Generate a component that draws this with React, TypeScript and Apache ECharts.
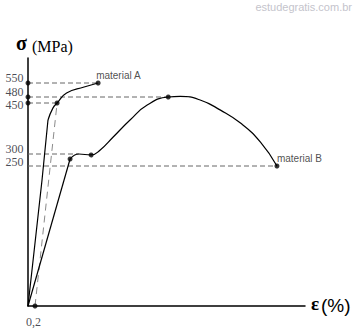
import React, { useEffect, useRef } from "react";
import * as echarts from "echarts";

// Stress axis of the reference is schematic (not proportional): labelled stresses and their axis spacing
const stressTicks = [0, 250, 300, 450, 480, 550];
const stressTickSpacing = [0, 140, 152, 203, 209, 223];
const stressAxisTop = 248;
const strainMax = 7.9;

// Material A (MPa vs %)
const strainA = [0, 0.4, 0.57, 0.71, 0.83, 1.1, 1.6, 2.0];
const stressA = [0, 225, 400, 435, 450, 500, 530, 550];
const elasticEndA = 2;
const markedA = [4, 7];

// Material B
const strainB = [0, 1.2, 1.45, 1.8, 2.06, 2.43, 2.91, 3.4, 4.0, 4.34, 4.91, 5.49, 6.06, 6.63, 7.1];
const stressB = [0, 279, 300, 296, 312, 350, 400, 444, 480, 483, 465, 429, 391, 335, 250];
const elasticEndB = 1;
const markedB = [1, 3, 8, 14];

// 0.2 % offset line
const offsetStrain = 0.2;
const offsetEndStrain = 0.83;
const offsetEndStress = 450;

// dashed reference lines: stress and the strain where they end
const guideStress = [550, 480, 450, 300, 250];
const guideStrainEnd = [2.0, 4.0, 0.83, 1.45, 7.1];
const axisDotStress = [550, 480, 450];
const tickLabels = ["550", "480", "450", "300", "250"];
const tickLabelStress = [550, 480, 450, 300, 250];

function toAxis(s: number): number {
  const t = stressTicks;
  const p = stressTickSpacing;
  for (let i = 1; i < t.length; i++) {
    if (s <= t[i]) return p[i - 1] + ((s - t[i - 1]) * (p[i] - p[i - 1])) / (t[i] - t[i - 1]);
  }
  const n = t.length - 1;
  return p[n] + ((s - t[n]) * (p[n] - p[n - 1])) / (t[n] - t[n - 1]);
}

const labelOffsets: Record<string, number> = { "550": -5, "480": -5, "450": 2, "300": -5, "250": -4 };

export default function App() {
  const ref = useRef<HTMLDivElement>(null);
  useEffect(() => {
    if (!ref.current) return;
    const chart = echarts.init(ref.current, undefined, { renderer: "svg" });
    const pts = (xs: number[], ys: number[], from: number, to: number) =>
      xs.slice(from, to + 1).map((x, i) => [x, toAxis(ys[from + i])]);

    const curveStyle = { color: "#000", width: 1.2 };
    const series: any[] = [];
    guideStress.forEach((g, i) => {
      series.push({
        type: "line",
        data: [
          [0, toAxis(g)],
          [guideStrainEnd[i], toAxis(g)],
        ],
        symbol: "none",
        silent: true,
        lineStyle: { color: "#666", width: 1, type: [5, 3] },
      });
    });
    series.push({
      type: "line",
      data: [
        [offsetStrain, 0],
        [offsetEndStrain, toAxis(offsetEndStress)],
      ],
      symbol: "none",
      silent: true,
      lineStyle: { color: "#8a8a8a", width: 1, type: [7, 5] },
    });
    series.push({
      type: "line",
      data: pts(strainA, stressA, 0, elasticEndA),
      symbol: "none",
      lineStyle: curveStyle,
    });
    series.push({
      type: "line",
      data: pts(strainA, stressA, elasticEndA, strainA.length - 1),
      symbol: "none",
      smooth: 0.5,
      lineStyle: curveStyle,
    });
    series.push({
      type: "line",
      data: pts(strainB, stressB, 0, elasticEndB),
      symbol: "none",
      lineStyle: curveStyle,
    });
    series.push({
      type: "line",
      data: pts(strainB, stressB, elasticEndB, strainB.length - 1),
      symbol: "none",
      smooth: 0.5,
      lineStyle: curveStyle,
    });

    const labelFont = { fontFamily: "Liberation Sans", fontSize: 10, color: "#222" };
    const markers: any[] = [];
    markedA.forEach((i) => {
      const item: any = { value: [strainA[i], toAxis(stressA[i])] };
      if (i === strainA.length - 1) {
        item.label = {
          show: true,
          formatter: "material A",
          position: "inside",
          align: "left",
          verticalAlign: "middle",
          offset: [-2, -8],
          ...labelFont,
        };
      }
      markers.push(item);
    });
    markedB.forEach((i) => {
      const item: any = { value: [strainB[i], toAxis(stressB[i])] };
      if (i === strainB.length - 1) {
        item.label = {
          show: true,
          formatter: "material B",
          position: "inside",
          align: "left",
          verticalAlign: "middle",
          offset: [0, -8],
          ...labelFont,
        };
      }
      markers.push(item);
    });
    axisDotStress.forEach((s) => markers.push({ value: [0, toAxis(s)] }));
    markers.push({
      value: [offsetStrain, 0],
      label: {
        show: true,
        formatter: "0,2",
        position: "bottom",
        distance: 7,
        offset: [-1.5, 0],
        fontFamily: "Liberation Serif",
        fontSize: 12,
        color: "#1a1a2a",
      },
    });
    series.push({
      type: "scatter",
      data: markers,
      symbolSize: 5,
      clip: false,
      itemStyle: { color: "#000" },
      z: 5,
    });
    series.push({
      type: "scatter",
      data: tickLabelStress.map((s, i) => ({
        value: [0, toAxis(s)],
        label: {
          show: true,
          formatter: tickLabels[i],
          position: "left",
          distance: 4,
          offset: [0, labelOffsets[tickLabels[i]]],
          fontFamily: "Liberation Serif",
          fontSize: 12,
          lineHeight: 11,
          color: "#1a1a2a",
        },
      })),
      symbolSize: 1,
      clip: false,
      itemStyle: { color: "rgba(0,0,0,0)" },
      silent: true,
    });

    chart.setOption({
      animation: false,
      backgroundColor: "#fff",
      grid: { left: 28, right: 49, top: 58, bottom: 26 },
      xAxis: {
        type: "value",
        min: 0,
        max: strainMax,
        axisLine: { show: true, lineStyle: { color: "#000", width: 1.5 } },
        axisTick: { show: false },
        axisLabel: { show: false },
        splitLine: { show: false },
      },
      yAxis: {
        type: "value",
        min: 0,
        max: stressAxisTop,
        axisLine: { show: true, lineStyle: { color: "#000", width: 1.5 } },
        axisTick: { show: false },
        axisLabel: { show: false },
        splitLine: { show: false },
      },
      graphic: [
        {
          type: "text",
          x: 352,
          y: 7,
          style: {
            text: "estudegratis.com.br",
            fontFamily: "Liberation Sans",
            fontSize: 11,
            fill: "#c4c4cc",
            align: "right",
            verticalAlign: "middle",
          },
        },
        {
          type: "text",
          x: 16,
          y: 43,
          style: {
            text: "σ",
            fontFamily: "Liberation Serif",
            fontWeight: "bold",
            fontSize: 20,
            fill: "#000",
            verticalAlign: "middle",
          },
        },
        {
          type: "text",
          x: 32,
          y: 46.5,
          style: {
            text: "(MPa)",
            fontFamily: "Liberation Serif",
            fontSize: 16,
            fill: "#000",
            verticalAlign: "middle",
          },
        },
        {
          type: "text",
          x: 311,
          y: 303.5,
          style: {
            text: "ε",
            fontFamily: "Liberation Serif",
            fontWeight: "bold",
            fontSize: 19,
            fill: "#000",
            verticalAlign: "middle",
          },
        },
        {
          type: "text",
          x: 321,
          y: 305.5,
          style: {
            text: "(%)",
            fontFamily: "Liberation Sans",
            fontSize: 19,
            fill: "#000",
            verticalAlign: "middle",
          },
        },
      ],
      series,
    });
    return () => chart.dispose();
  }, []);
  return (
    <div
      ref={ref}
      style={{ position: "absolute", left: 0, top: 0, width: 354, height: 332, background: "#fff" }}
    />
  );
}
